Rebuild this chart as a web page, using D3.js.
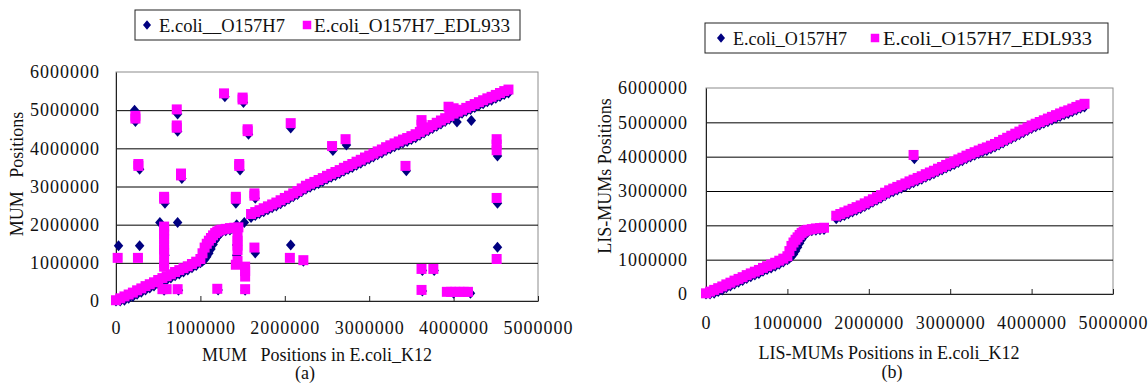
<!DOCTYPE html>
<html>
<head>
<meta charset="utf-8">
<script src="https://cdn.jsdelivr.net/npm/d3@7"></script>
<style>
  body { margin: 0; background: #fff; }
  svg text { font-family: "Liberation Serif", "Noto Serif", "DejaVu Serif", serif; fill: #111; }
</style>
</head>
<body>
<svg id="chart" width="1148" height="385"></svg>
<script>
// ---- data (positions in bp) ----
const seriesNames = ["E.coli_O157H7", "E.coli_O157H7_EDL933"];
const xTicks = [0, 1000000, 2000000, 3000000, 4000000, 5000000];
const yTicks = [0, 1000000, 2000000, 3000000, 4000000, 5000000, 6000000];
const xTickLabels = ["0", "1000000", "2000000", "3000000", "4000000", "5000000"];
const yTickLabels = ["0", "1000000", "2000000", "3000000", "4000000", "5000000", "6000000"];

// collinear (LIS) MUMs, K12 positions
const lisK12 = [
  0, 50000, 100000, 150000, 200000, 250000, 300000, 350000, 400000, 450000, 500000,
  550000, 600000, 650000, 700000, 750000, 800000, 850000, 900000, 950000, 1000000,
  1025000, 1050000, 1075000, 1100000, 1125000, 1150000, 1175000, 1200000, 1225000,
  1250000, 1300000, 1350000, 1400000, 1450000,
  1600000, 1650000, 1700000, 1750000, 1800000, 1850000, 1900000, 1950000, 2000000, 2050000,
  2100000, 2150000, 2200000, 2250000, 2300000, 2350000, 2400000, 2450000, 2500000, 2550000,
  2600000, 2650000, 2700000, 2750000, 2800000, 2850000, 2900000, 2950000, 3000000, 3050000,
  3100000, 3150000, 3200000, 3250000, 3300000, 3350000, 3400000, 3450000, 3500000, 3550000,
  3600000, 3650000, 3700000, 3750000, 3800000, 3850000, 3900000, 3950000, 4000000, 4050000,
  4100000, 4150000, 4200000, 4250000, 4300000, 4350000, 4400000, 4450000, 4500000, 4550000,
  4600000, 4650000
];
const lisEDL933 = [
  20000, 70000, 120000, 170000, 220000, 280000, 330000, 390000, 440000, 490000, 550000,
  600000, 650000, 700000, 760000, 810000, 860000, 910000, 970000, 1030000, 1100000,
  1250000, 1400000, 1500000, 1580000, 1650000, 1720000, 1780000, 1820000, 1850000,
  1870000, 1890000, 1910000, 1920000, 1930000,
  2280000, 2330000, 2380000, 2430000, 2480000, 2530000, 2580000, 2640000, 2700000, 2760000,
  2820000, 2880000, 2950000, 3020000, 3070000, 3120000, 3170000, 3220000, 3280000, 3330000,
  3380000, 3430000, 3490000, 3540000, 3590000, 3650000, 3700000, 3760000, 3810000, 3860000,
  3920000, 3970000, 4030000, 4080000, 4130000, 4180000, 4230000, 4270000, 4320000, 4370000,
  4430000, 4490000, 4550000, 4610000, 4670000, 4730000, 4790000, 4850000, 4910000, 4960000,
  5010000, 5060000, 5110000, 5160000, 5210000, 5260000, 5310000, 5350000, 5400000, 5450000,
  5500000, 5540000
];
const lisO157H7 = [
  0, 0, 20000, 70000, 120000, 180000, 230000, 290000, 340000, 390000, 450000,
  500000, 550000, 600000, 660000, 710000, 760000, 810000, 870000, 930000, 1000000,
  1040000, 1090000, 1160000, 1250000, 1360000, 1480000, 1590000, 1680000, 1750000,
  1800000, 1840000, 1860000, 1870000, 1880000,
  2190000, 2240000, 2290000, 2340000, 2390000, 2440000, 2490000, 2550000, 2610000, 2670000,
  2730000, 2790000, 2860000, 2930000, 2980000, 3030000, 3080000, 3130000, 3190000, 3240000,
  3290000, 3340000, 3400000, 3450000, 3500000, 3560000, 3610000, 3670000, 3720000, 3770000,
  3830000, 3880000, 3940000, 3990000, 4040000, 4090000, 4140000, 4180000, 4230000, 4280000,
  4340000, 4400000, 4460000, 4520000, 4580000, 4640000, 4700000, 4760000, 4820000, 4870000,
  4920000, 4970000, 5020000, 5070000, 5120000, 5170000, 5220000, 5260000, 5310000, 5360000,
  5410000, 5450000
];

// non-collinear MUMs, only in panel (a): [K12 position, position]
const otherEDL933 = [
  [20000, 1130000], [230000, 4850000], [230000, 4780000], [260000, 1130000], [265000, 3590000], [265000, 3540000],
  [550000, 310000], [570000, 2730000], [570000, 2680000], [570000, 1950000], [570000, 1850000], [570000, 1750000],
  [570000, 1620000], [570000, 1480000], [570000, 1350000], [570000, 1250000], [570000, 1000000], [570000, 900000],
  [600000, 310000], [720000, 5020000], [720000, 4600000], [720000, 4540000], [730000, 310000], [770000, 3340000],
  [770000, 3290000], [1200000, 320000], [1280000, 5440000], [1420000, 2730000], [1420000, 2680000], [1440000, 1700000],
  [1440000, 1580000], [1440000, 1450000], [1440000, 1330000], [1440000, 1050000], [1420000, 950000], [1460000, 3590000],
  [1460000, 3540000], [1500000, 5330000], [1500000, 5280000], [1530000, 900000], [1530000, 780000], [1530000, 640000],
  [1530000, 310000], [1560000, 4500000], [1560000, 4450000], [1640000, 2820000], [1640000, 2760000], [1640000, 1400000],
  [2060000, 1130000], [2070000, 4660000], [2220000, 1070000], [2560000, 4060000], [2720000, 4240000], [3430000, 3540000],
  [3620000, 4740000], [3620000, 4620000], [3620000, 840000], [3760000, 840000], [3620000, 290000],
  [3920000, 240000], [3970000, 240000], [4020000, 240000], [4070000, 240000], [4120000, 240000], [4170000, 240000],
  [3940000, 5090000], [4000000, 5050000],
  [4510000, 4240000], [4510000, 4100000], [4510000, 3950000], [4510000, 2700000], [4510000, 1100000]
];
const otherO157H7 = [
  [30000, 1450000], [220000, 5000000], [230000, 4700000], [280000, 1450000], [280000, 3450000], [520000, 2060000],
  [580000, 2560000], [580000, 1200000], [570000, 280000], [730000, 2060000], [730000, 4900000], [730000, 4450000],
  [740000, 280000], [780000, 3210000], [1210000, 290000], [1290000, 5350000], [1420000, 2560000], [1470000, 3430000],
  [1430000, 2000000], [1430000, 1470000], [1430000, 1200000], [1510000, 5200000], [1520000, 2060000], [1530000, 280000],
  [1570000, 4370000], [1650000, 2690000], [1650000, 1260000], [2070000, 1470000], [2070000, 4530000], [2220000, 1040000],
  [2570000, 3940000], [2730000, 4090000], [3440000, 3410000], [3630000, 260000], [3630000, 800000], [3770000, 800000],
  [4000000, 200000], [4200000, 200000], [4040000, 4690000], [4210000, 4730000],
  [4520000, 3800000], [4520000, 2560000], [4520000, 1410000]
];
// the one off-diagonal LIS-MUM in panel (b)
const lisExtraEDL933 = [[2550000, 4050000]];
const lisExtraO157H7 = [[2560000, 3940000]];

// ---- drawing ----
const svg = d3.select("#chart");
const pink = "#ff00ff", navy = "#000080";
const serif = "'Liberation Serif', 'Noto Serif', 'DejaVu Serif', serif";

const diamond = {
  draw(ctx, size) {
    const r = Math.sqrt(size) / 2;
    ctx.moveTo(0, -r * 1.1);
    ctx.lineTo(r * 0.95, 0);
    ctx.lineTo(0, r * 1.1);
    ctx.lineTo(-r * 0.95, 0);
    ctx.closePath();
  }
};
const diamondPath = d3.symbol().type(diamond).size(100)();
const squarePath = d3.symbol().type(d3.symbolSquare).size(100)();
const legDiamond = d3.symbol().type(diamond).size(72)();
const legSquare = d3.symbol().type(d3.symbolSquare).size(72)();

const lisBlue = lisK12.map((k, i) => [k, lisO157H7[i]]);
const lisPink = lisK12.map((k, i) => [k, lisEDL933[i]]);

function panel(p) {
  const g = svg.append("g");
  const x = d3.scaleLinear().domain([0, 5000000]).range([p.left, p.right]);
  const y = d3.scaleLinear().domain([0, 6000000]).range([p.bottom, p.top]);

  // plot area border
  g.append("rect")
    .attr("x", p.left).attr("y", p.top)
    .attr("width", p.right - p.left).attr("height", p.bottom - p.top)
    .attr("fill", "none").attr("stroke", "#8c8c8c");

  // gridlines
  g.append("g")
    .attr("transform", `translate(${p.left},0)`)
    .call(d3.axisLeft(y).tickValues(yTicks.slice(1, -1)).tickSize(-(p.right - p.left)).tickFormat(""))
    .call(a => a.select(".domain").remove())
    .call(a => a.selectAll("line").attr("stroke", "#000"));

  // y axis labels
  g.append("g")
    .attr("transform", `translate(${p.left},0)`)
    .call(d3.axisLeft(y).tickValues(yTicks).tickSize(0).tickPadding(p.yPad)
      .tickFormat((d, i) => yTickLabels[i]))
    .attr("font-family", null)
    .call(a => a.select(".domain").attr("stroke", "#222"))
    .call(a => a.selectAll("text").attr("font-size", 18).attr("letter-spacing", 1)
      .style("font-family", serif).attr("fill", "#111"));

  // x axis
  g.append("g")
    .attr("transform", `translate(0,${p.bottom})`)
    .call(d3.axisBottom(x).tickValues(xTicks).tickSizeInner(-5).tickSizeOuter(0)
      .tickFormat((d, i) => xTickLabels[i]))
    .attr("font-family", null)
    .call(a => a.select(".domain").attr("stroke", "#222"))
    .call(a => a.selectAll("line").attr("stroke", "#222"))
    .call(a => a.selectAll("text").attr("y", p.xLabY).attr("dy", null)
      .attr("font-size", 18).attr("letter-spacing", 1)
      .style("font-family", serif).attr("fill", "#111"));

  // series: O157H7 (navy diamonds) below, EDL933 (pink squares) on top
  g.append("g").selectAll("path")
    .data(p.blue).join("path")
    .attr("d", diamondPath).attr("fill", navy)
    .attr("transform", d => `translate(${x(d[0])},${y(d[1])})`);
  g.append("g").selectAll("path")
    .data(p.pink).join("path")
    .attr("d", squarePath).attr("fill", pink)
    .attr("transform", d => `translate(${x(d[0])},${y(d[1])})`);

  // axis titles
  g.append("text")
    .attr("x", p.xTitle[0]).attr("y", p.xTitle[1])
    .attr("text-anchor", "middle").attr("font-size", 18)
    .style("white-space", "pre").style("font-family", serif)
    .text(p.xTitleText);
  g.append("text")
    .attr("transform", `translate(${p.yTitle[0]},${p.yTitle[1]}) rotate(-90)`)
    .attr("text-anchor", "middle").attr("font-size", 18)
    .style("white-space", "pre").style("font-family", serif)
    .text(p.yTitleText);
  g.append("text")
    .attr("x", p.caption[0]).attr("y", p.caption[1])
    .attr("text-anchor", "middle").attr("font-size", 18)
    .style("font-family", serif)
    .text(p.captionText);

  // legend
  const lg = g.append("g");
  lg.append("rect")
    .attr("x", p.legend.x).attr("y", p.legend.y)
    .attr("width", p.legend.w).attr("height", p.legend.h)
    .attr("fill", "#fff").attr("stroke", "#222");
  const cy = p.legend.y + p.legend.h / 2;
  lg.append("path").attr("d", legDiamond).attr("fill", navy)
    .attr("transform", `translate(${p.legend.m1},${cy})`);
  lg.append("path").attr("d", legSquare).attr("fill", pink)
    .attr("transform", `translate(${p.legend.m2},${cy})`);
  lg.append("text").attr("x", p.legend.t1).attr("y", cy + 7)
    .attr("font-size", 19).attr("textLength", p.legend.l1).attr("lengthAdjust", "spacingAndGlyphs")
    .style("font-family", serif)
    .text(p.legend.name1);
  lg.append("text").attr("x", p.legend.t2).attr("y", cy + 7)
    .attr("font-size", 19).attr("textLength", p.legend.l2).attr("lengthAdjust", "spacingAndGlyphs")
    .style("font-family", serif)
    .text(seriesNames[1]);
}

panel({
  left: 116, right: 538, top: 72, bottom: 301, yPad: 16, xLabY: 33,
  blue: lisBlue.concat(otherO157H7),
  pink: lisPink.concat(otherEDL933),
  xTitle: [317, 361], xTitleText: "MUM   Positions in E.coli_K12",
  yTitle: [23, 174], yTitleText: "MUM   Positions",
  caption: [305, 379], captionText: "(a)",
  legend: { x: 135, y: 10, w: 385, h: 30, m1: 147, m2: 307, t1: 159, t2: 314, l1: 126, l2: 196,
            name1: "E.coli__O157H7" }
});

panel({
  left: 706, right: 1113, top: 88, bottom: 294, yPad: 18, xLabY: 35,
  blue: lisBlue.concat(lisExtraO157H7),
  pink: lisPink.concat(lisExtraEDL933),
  xTitle: [889, 359], xTitleText: "LIS-MUMs Positions in E.coli_K12",
  yTitle: [611, 176], yTitleText: "LIS-MUMs Positions",
  caption: [892, 378], captionText: "(b)",
  legend: { x: 705, y: 23, w: 403, h: 30, m1: 721, m2: 875, t1: 733, t2: 883, l1: 114, l2: 209,
            name1: seriesNames[0] }
});
</script>
</body>
</html>
